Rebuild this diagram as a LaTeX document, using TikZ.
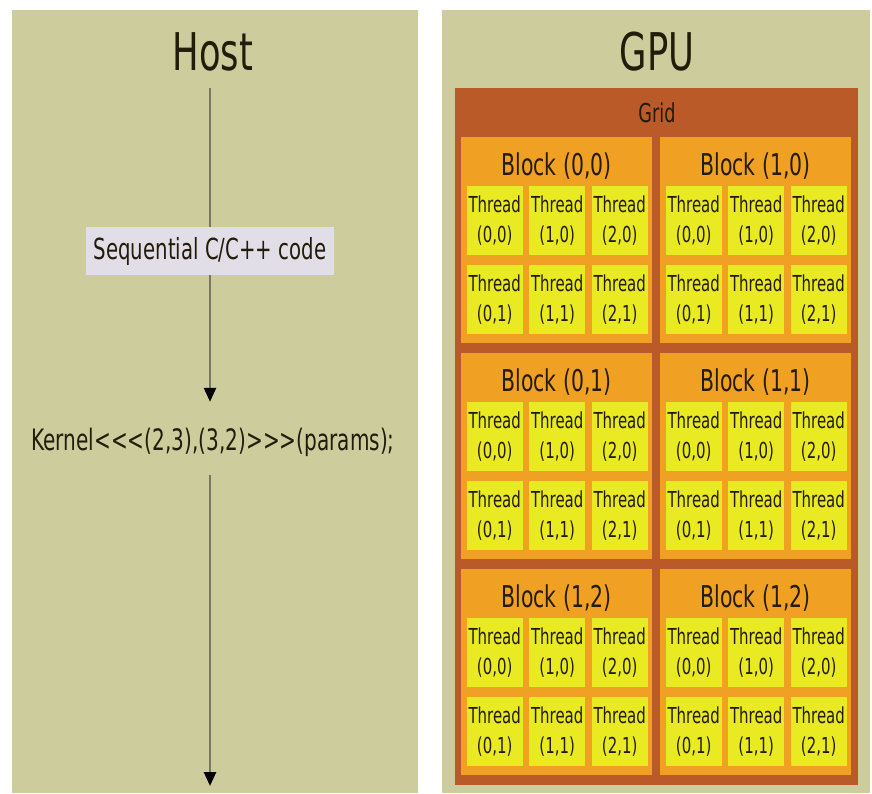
\documentclass[tikz,border=0pt]{standalone}
\usepackage{fontspec}
\setmainfont{DejaVu Sans}[FakeStretch=0.68]
\usetikzlibrary{arrows.meta}
\definecolor{panel}{RGB}{205,204,157}
\definecolor{gridc}{RGB}{186,90,40}
\definecolor{blockc}{RGB}{240,160,34}
\definecolor{threadc}{RGB}{234,234,34}
\definecolor{seqc}{RGB}{226,222,232}
\definecolor{linec}{RGB}{120,120,100}
\definecolor{txt}{RGB}{35,28,10}
\tikzset{
  panelbox/.style={fill=panel, draw=none},
  threadbox/.style={fill=threadc, draw=none, minimum width=56pt, minimum height=69pt, inner sep=0pt, anchor=north west, align=center, text=txt, font=\fontsize{22}{30}\selectfont},
  blockbox/.style={fill=blockc, draw=none},
  flow/.style={draw=linec, line width=2.5pt, -{Triangle[black,width=12pt,length=14pt]}},
  flowplain/.style={draw=linec, line width=2.5pt},
}
\begin{document}
\begin{tikzpicture}[x=1pt,y=-1pt]
\useasboundingbox (0,0) rectangle (872,793);
\fill[white] (0,0) rectangle (872,793);
% panels
\fill[panelbox] (12,10) rectangle (418,793);
\fill[panelbox] (442,10) rectangle (870,793);
% host side
\node[text=txt, font=\fontsize{52}{52}\selectfont] (host) at (213,52) {Host};
\coordinate (l0) at (210,88);
\coordinate (lend) at (210,786);
\node[fill=seqc, minimum width=248pt, minimum height=48pt, inner sep=0pt, text=txt, font=\fontsize{29}{29}\selectfont] (seq) at (210,251) {Sequential C/C++ code};
\node[minimum height=80pt, inner sep=0pt, text=txt, font=\fontsize{29.5}{29.5}\selectfont] (kernel) at (213,442) {Kernel<{}<{}<(2,3),(3,2)>{}>{}>(params);};
\draw[flowplain] (l0) -- (seq.north -| l0);
\draw[flow] (seq.south -| l0) -- (kernel.north -| l0);
\draw[flow] ([yshift=7pt]kernel.south -| l0) -- (lend);
% gpu side
\node[text=txt, font=\fontsize{52}{52}\selectfont] (gpu) at (657,52) {GPU};
\fill[gridc] (455,88) rectangle (858,785);
\node[text=txt, font=\fontsize{26}{26}\selectfont] (grid) at (657,113) {Grid};
\foreach \r/\ty in {0/137,1/353,2/569}{
  \foreach \c/\bx in {0/461,1/660}{
    \fill[blockbox] (\bx,\ty) rectangle ++(191,206);
    \ifnum\r=2 \def\lab{(1,2)}\else\def\lab{(\c,\r)}\fi
    \node[text=txt, font=\fontsize{30}{30}\selectfont] (blk\r\c) at (\bx+95.5,\ty+29) {Block \lab};
    \foreach \oy/\tr in {49/0,128/1}{
      \foreach \tx/\tc in {5.5/0,68/1,130.5/2}{
        \node[threadbox] (th\r\c\tr\tc) at (\bx+\tx,\ty+\oy) {Thread\\(\tc,\tr)};
      }
    }
  }
}
\end{tikzpicture}
\end{document}
